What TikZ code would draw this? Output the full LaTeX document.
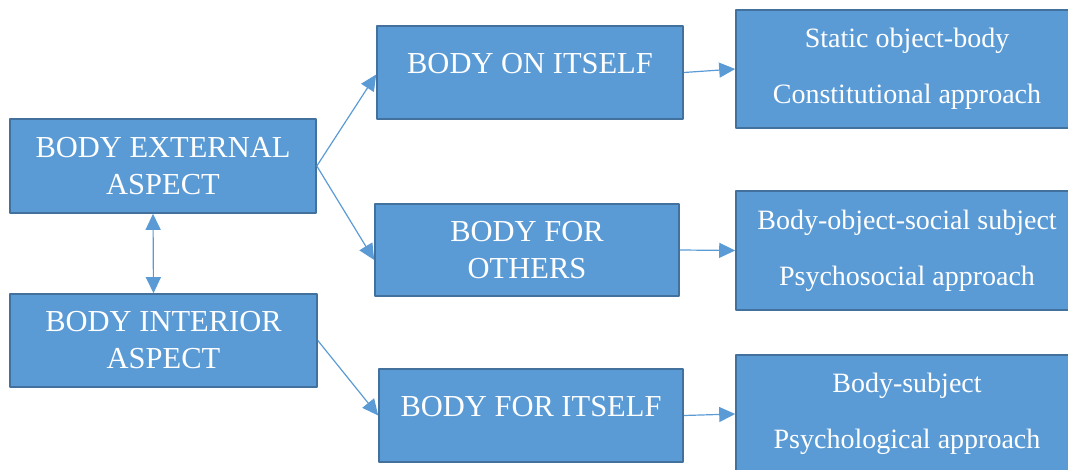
\documentclass[tikz,border=0pt]{standalone}
\usepackage{fontspec}
\setmainfont{Liberation Serif}
\usetikzlibrary{arrows.meta}
\definecolor{boxblue}{HTML}{5B9BD5}
\definecolor{boxedge}{HTML}{41719C}
\tikzset{>={Triangle[length=16pt,width=15pt]}}
\tikzset{
    block/.style={draw=boxedge, line width=1.6pt, fill=boxblue, text=white, align=center,
        inner sep=0pt, font=\fontsize{30.5}{37}\selectfont},
    outcome/.style={block, minimum width=342pt, minimum height=118pt,
        font=\fontsize{28}{56}\selectfont},
    link/.style={->, boxblue, line width=1.2pt}
}

\begin{document}
\begin{tikzpicture}[x=1pt, y=-1pt, line join = round]
    \useasboundingbox (0,0) rectangle (1068,470);
    \clip (0,0) rectangle (1068,470);

    \node[block, minimum width=306pt, minimum height=94pt] (ext) at (163,166) {BODY EXTERNAL\\ASPECT};
    \node[block, minimum width=307pt, minimum height=93pt] (int) at (163.5,340.5) {BODY INTERIOR\\ASPECT};

    \node[block, minimum width=306pt, minimum height=93pt, text depth=19pt] (onit) at (530,72.5) {BODY ON ITSELF};
    \node[block, minimum width=304pt, minimum height=92pt] (foroth) at (527,250) {BODY FOR\\OTHERS};
    \node[block, minimum width=304pt, minimum height=93pt, text depth=19pt] (forit) at (531,415.5) {BODY FOR ITSELF};

    \node[outcome] (static) at (907,69) {Static object-body\\Constitutional approach};
    \node[outcome, minimum height=119pt] (social) at (907,250.5) {Body-object-social subject\\Psychosocial approach};
    \node[outcome] (subject) at (907,414) {Body-subject\\Psychological approach};

    \draw[link, <->] ([xshift=-10pt]ext.south) -- ([xshift=-10pt]int.north);
    \draw[link] (ext.east) -- ([yshift=-2pt]onit.west);
    \draw[link] (ext.east) -- ([yshift=-10pt]foroth.west);
    \draw[link] (int.east) -- (forit.west);

    \draw[link] (onit.east) -- (static.west);
    \draw[link] (foroth.east) -- (social.west);
    \draw[link] (forit.east) -- (subject.west);
\end{tikzpicture}
\end{document}
